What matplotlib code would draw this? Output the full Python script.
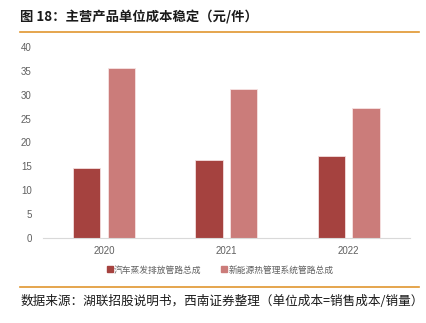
"""Unit cost of main products, grouped bars by year (yuan / piece)."""
import matplotlib
matplotlib.use("Agg")
import matplotlib.pyplot as plt
from matplotlib.lines import Line2D
import numpy as np

plt.rcParams["font.family"] = ["Noto Sans CJK SC", "DejaVu Sans"]

years = ["2020", "2021", "2022"]
evap_cost = [14.7, 16.3, 17.1]      # 汽车蒸发排放管路总成
thermal_cost = [35.6, 31.1, 27.2]   # 新能源热管理系统管路总成
series_names = ["汽车蒸发排放管路总成", "新能源热管理系统管路总成"]

DARK = "#A5423F"
LIGHT = "#CB7C7A"
ORANGE = "#E0962F"
GREY = "#606060"

fig = plt.figure(figsize=(4.27, 3.23), dpi=100)
ax = fig.add_axes([0.1, 0.263, 0.86, 0.592])

x = np.arange(len(years))
w = 0.224
off = 0.142
ax.bar(x - off, evap_cost, width=w, color=DARK, edgecolor="#f3dede", linewidth=0.6)
ax.bar(x + off, thermal_cost, width=w, color=LIGHT, edgecolor="#f6e3e3", linewidth=0.6)

ax.set_xlim(-0.5, 2.5)
ax.set_ylim(0, 40)
ax.set_yticks(range(0, 41, 5))
ax.set_xticks(x)
ax.set_xticklabels(years)
for lab in ax.get_xticklabels() + ax.get_yticklabels():
    lab.set_fontfamily("Liberation Sans")
    lab.set_fontsize(7)
    lab.set_color(GREY)
ax.tick_params(length=0, pad=6)
ax.tick_params(axis="y", pad=8)
for s in ["top", "right", "left"]:
    ax.spines[s].set_visible(False)
ax.spines["bottom"].set_color("#d9d9d9")
ax.spines["bottom"].set_linewidth(0.8)

handles = [Line2D([], [], marker="s", ls="", color=DARK, markersize=4),
           Line2D([], [], marker="s", ls="", color=LIGHT, markersize=4)]
fig.legend(handles, series_names, loc="center", bbox_to_anchor=(0.515, 0.164),
           ncol=2, frameon=False, fontsize=6.3, handletextpad=0.1,
           columnspacing=2.2, labelcolor=GREY, handlelength=0.8)

# header and footer
fig.text(0.047, 0.947, "图 18：主营产品单位成本稳定（元/件）", fontsize=9.6,
         fontweight="bold", color="#1a1a1a", va="center", ha="left")
fig.add_artist(Line2D([0.047, 0.981], [0.9, 0.9], color=ORANGE, lw=1.2))
fig.add_artist(Line2D([0.047, 0.981], [0.111, 0.111], color=ORANGE, lw=1.2))
fig.text(0.047, 0.068, "数据来源：湖联招股说明书，西南证券整理（单位成本=销售成本/销量）",
         fontsize=9.1, color="#1a1a1a", va="center", ha="left")

fig.savefig("out.png", dpi=100)
